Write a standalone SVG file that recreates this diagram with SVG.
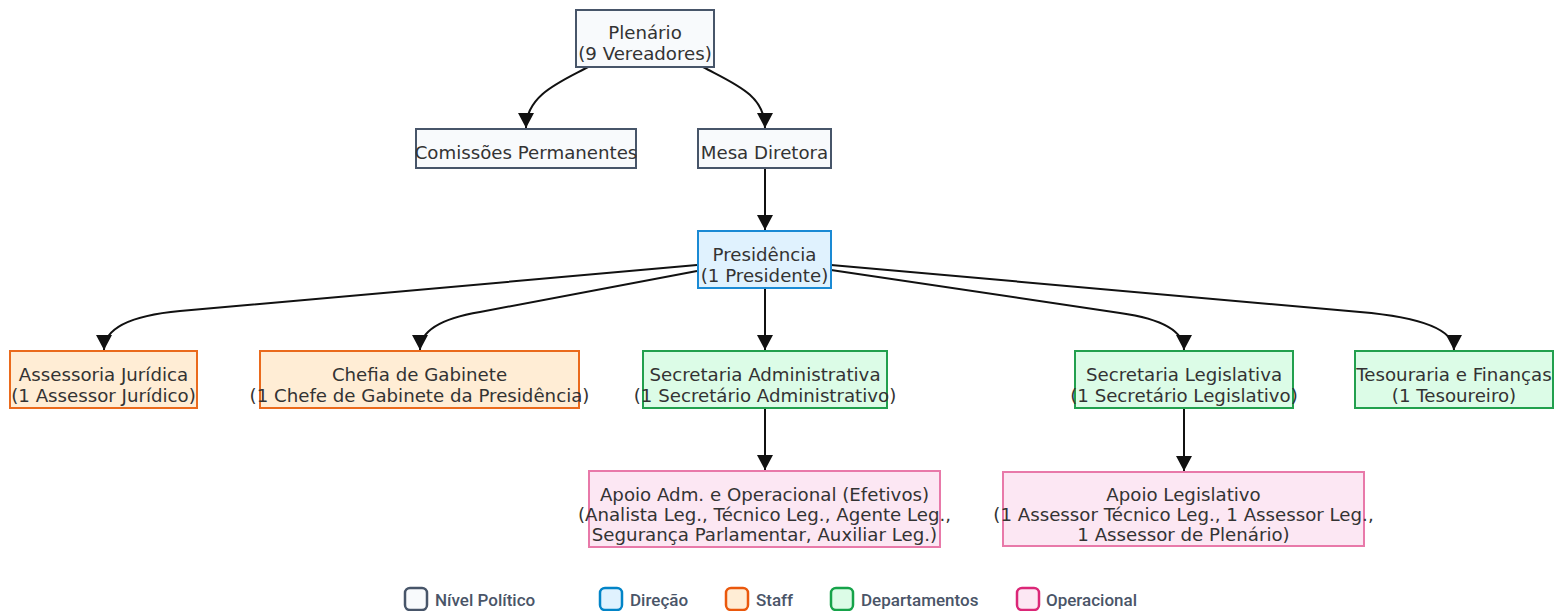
<svg xmlns="http://www.w3.org/2000/svg" width="1557" height="611" viewBox="0 0 1557 611">
<defs>
<style>
.bg{fill:#ffffff}
.n rect{stroke-width:2}
.n text{font-family:"DejaVu Sans",sans-serif;font-size:18.2px;fill:#333333;text-anchor:middle}
.pol rect{fill:#f8fafc;stroke:#475569}
.dir rect{fill:#e0f2fe;stroke:#1a8ad4}
.stf rect{fill:#ffedd5;stroke:#ea6a1c}
.dep rect{fill:#dcfce7;stroke:#22a04e}
.ope rect{fill:#fce7f3;stroke:#e879a9}
.e path{fill:none;stroke:#111111;stroke-width:2;marker-end:url(#arr)}
.lg rect{stroke-width:2.5}
.lg text{font-family:Roboto,"Liberation Sans",sans-serif;font-size:17px;font-weight:500;fill:#4a5568}
</style>
<marker id="arr" viewBox="0 0 12 12" refX="12" refY="6" markerWidth="15" markerHeight="16" markerUnits="userSpaceOnUse" orient="auto" preserveAspectRatio="none">
<path d="M0,0 L12,6 L0,12 z" fill="#111111"/>
</marker>
</defs>
<rect class="bg" x="0" y="0" width="1557" height="611"/>
<g id="connectors" class="e">
<path d="M588,67 C560,82 526,95 526,128"/>
<path d="M703,67 C735,84 765,95 765,128"/>
<path d="M765,168 L765,230"/>
<path d="M697,265 L180,311 Q104,318 104,350"/>
<path d="M697,271 L480,312 Q420,322 420,350"/>
<path d="M765,288 L765,350"/>
<path d="M831,270 L1120,313 Q1184,322 1184,350"/>
<path d="M831,265 L1360,312 Q1454,320 1454,350"/>
<path d="M765,408 L765,470"/>
<path d="M1184,408 L1184,471"/>
</g>
<g id="plenario" class="n pol">
<rect x="576" y="10" width="138" height="57"/>
<text x="645" y="39">Plenário</text>
<text x="645" y="60">(9 Vereadores)</text>
</g>
<g id="comissoes" class="n pol">
<rect x="416" y="129" width="220" height="39"/>
<text x="526" y="159">Comissões Permanentes</text>
</g>
<g id="mesa" class="n pol">
<rect x="698" y="129" width="133" height="39"/>
<text x="764.5" y="159">Mesa Diretora</text>
</g>
<g id="presidencia" class="n dir">
<rect x="698" y="231" width="133" height="57"/>
<text x="764.5" y="261">Presidência</text>
<text x="764.5" y="282">(1 Presidente)</text>
</g>
<g id="assessoria" class="n stf">
<rect x="10" y="351" width="187" height="57"/>
<text x="103.5" y="381">Assessoria Jurídica</text>
<text x="103.5" y="402">(1 Assessor Jurídico)</text>
</g>
<g id="chefia" class="n stf">
<rect x="260" y="351" width="319" height="57"/>
<text x="419.5" y="381">Chefia de Gabinete</text>
<text x="419.5" y="402">(1 Chefe de Gabinete da Presidência)</text>
</g>
<g id="sec_adm" class="n dep">
<rect x="643" y="351" width="244" height="57"/>
<text x="765" y="381">Secretaria Administrativa</text>
<text x="765" y="402">(1 Secretário Administrativo)</text>
</g>
<g id="sec_leg" class="n dep">
<rect x="1075" y="351" width="218" height="57"/>
<text x="1184" y="381">Secretaria Legislativa</text>
<text x="1184" y="402">(1 Secretário Legislativo)</text>
</g>
<g id="tesouraria" class="n dep">
<rect x="1355" y="351" width="198" height="57"/>
<text x="1454" y="381">Tesouraria e Finanças</text>
<text x="1454" y="402">(1 Tesoureiro)</text>
</g>
<g id="apoio_adm" class="n ope">
<rect x="589" y="471" width="351" height="76"/>
<text x="764.5" y="501">Apoio Adm. e Operacional (Efetivos)</text>
<text x="764.5" y="521">(Analista Leg., Técnico Leg., Agente Leg.,</text>
<text x="764.5" y="541">Segurança Parlamentar, Auxiliar Leg.)</text>
</g>
<g id="apoio_leg" class="n ope">
<rect x="1003" y="472" width="361" height="74"/>
<text x="1183.5" y="501">Apoio Legislativo</text>
<text x="1183.5" y="521">(1 Assessor Técnico Leg., 1 Assessor Leg.,</text>
<text x="1183.5" y="541">1 Assessor de Plenário)</text>
</g>
<g id="legend" class="lg">
<rect x="405" y="588" width="22" height="22" rx="5" fill="#f8fafc" stroke="#475569"/>
<text x="435" y="606">Nível Político</text>
<rect x="600" y="588" width="22" height="22" rx="5" fill="#e0f2fe" stroke="#0284c7"/>
<text x="630" y="606">Direção</text>
<rect x="726" y="588" width="22" height="22" rx="5" fill="#ffedd5" stroke="#ea580c"/>
<text x="756" y="606">Staff</text>
<rect x="831" y="588" width="22" height="22" rx="5" fill="#dcfce7" stroke="#16a34a"/>
<text x="861" y="606">Departamentos</text>
<rect x="1017" y="588" width="22" height="22" rx="5" fill="#fce7f3" stroke="#db2777"/>
<text x="1046" y="606">Operacional</text>
</g>
</svg>
